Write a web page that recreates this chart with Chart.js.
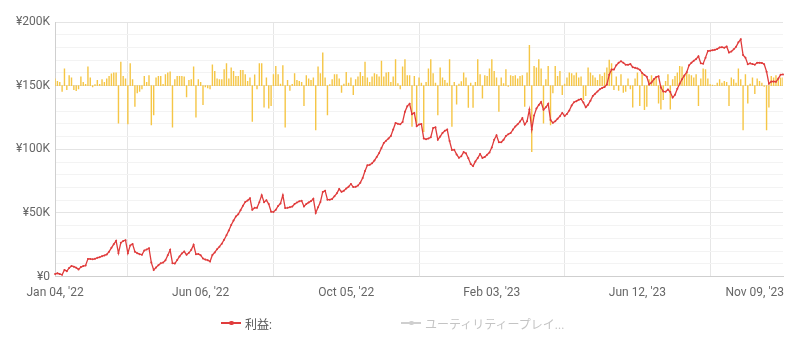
<!DOCTYPE html>
<html>
<head>
<meta charset="utf-8">
<script src="https://cdn.jsdelivr.net/npm/chart.js@4.4.0/dist/chart.umd.min.js"></script>
<style>
  html, body { margin: 0; padding: 0; background: #fff; }
  #wrap { position: relative; width: 789px; height: 351px; }
  #legend { position: absolute; left: 0; top: 314px; width: 789px; height: 18px;
    font: 12px Roboto, "Noto Sans CJK JP", sans-serif; }
  .item { position: absolute; top: 0; height: 18px; display: flex; align-items: center; white-space: nowrap; }
  .mark { position: relative; width: 20px; height: 18px; margin-right: 4px; }
  .mark::before { content: ''; position: absolute; left: 0; right: 0; top: 8px; height: 1.5px; background: currentColor; }
  .mark::after { content: ''; position: absolute; left: 8px; top: 6.5px; width: 4.5px; height: 4.5px; border-radius: 50%; background: currentColor; }
</style>
</head>
<body>
<div id="wrap">
  <canvas id="chart" width="789" height="351"></canvas>
  <div id="legend"></div>
</div>
<script>
// cumulative profit (K yen) per trade
const profitK = [
  2.0, 2.6, 2.0, 1.4, 5.2, 4.3, 6.8, 8.4, 7.8, 7.0,
  5.6, 7.5, 8.3, 8.7, 13.9, 13.9, 13.6, 14.0, 14.8, 15.2,
  16.0, 16.6, 17.4, 19.6, 22.6, 25.5, 28.1, 18.4, 26.5, 28.0,
  28.6, 18.4, 24.5, 25.6, 19.6, 18.4, 17.6, 17.1, 20.5, 21.3,
  22.3, 11.0, 5.2, 7.1, 9.0, 10.5, 11.0, 12.8, 16.8, 21.0,
  10.5, 10.2, 13.0, 15.8, 18.2, 19.7, 17.1, 18.7, 21.0, 25.0,
  17.5, 17.8, 16.8, 14.2, 13.4, 12.9, 11.8, 17.0, 19.0, 21.5,
  23.5, 25.8, 29.0, 32.5, 36.3, 40.5, 44.0, 47.2, 49.0, 52.2,
  55.6, 58.6, 59.8, 61.5, 52.5, 54.0, 54.0, 58.5, 64.0, 58.5,
  60.0, 57.0, 51.0, 50.8, 52.5, 55.5, 57.5, 64.0, 53.8, 54.0,
  54.5, 55.0, 57.0, 58.2, 59.1, 59.6, 55.1, 57.0, 58.3, 59.3,
  61.2, 50.0, 54.5, 58.6, 66.5, 67.5, 60.4, 60.4, 61.0, 63.2,
  65.4, 68.8, 66.6, 67.5, 69.2, 70.6, 72.8, 70.3, 70.5, 71.5,
  73.8, 77.5, 83.0, 87.4, 87.8, 89.0, 91.2, 94.0, 97.0, 101.0,
  105.0, 106.8, 108.5, 110.5, 115.5, 120.7, 120.0, 119.6, 121.5, 129.5,
  133.9, 135.7, 127.5, 128.6, 118.2, 119.5, 119.8, 108.5, 107.8, 108.5,
  109.5, 116.8, 117.3, 107.6, 110.0, 112.8, 114.6, 115.5, 106.5, 99.5,
  99.6, 96.0, 93.3, 94.6, 97.8, 96.8, 93.0, 88.5, 86.8, 90.5,
  93.1, 96.3, 93.2, 94.0, 95.7, 97.5, 101.5, 107.5, 111.0, 105.5,
  105.5, 107.5, 110.5, 111.8, 112.8, 115.5, 118.0, 119.6, 121.8, 124.5,
  119.4, 122.0, 131.3, 115.5, 126.5, 132.0, 134.8, 137.2, 131.0, 133.0,
  135.7, 123.0, 120.8, 122.0, 124.0, 126.0, 128.6, 126.2, 127.8, 130.5,
  134.5, 137.0, 137.8, 138.9, 139.5, 136.8, 133.0, 135.0, 138.2, 141.9,
  143.6, 145.5, 147.2, 148.2, 149.0, 151.0, 158.5, 162.7, 162.6, 166.0,
  168.0, 169.2, 168.0, 166.5, 166.4, 167.0, 164.5, 164.0, 163.5, 162.5,
  160.0, 158.4, 157.0, 151.0, 152.5, 155.0, 156.8, 157.3, 148.5, 145.5,
  145.3, 147.0, 145.0, 140.6, 142.8, 147.5, 151.5, 155.0, 158.0, 160.5,
  166.0, 168.0, 169.5, 171.0, 173.0, 167.5, 167.3, 172.0, 177.2, 177.5,
  177.8, 178.2, 178.8, 180.0, 180.2, 179.8, 180.8, 176.0, 176.8, 178.5,
  180.5, 184.0, 186.4, 174.0, 172.0, 166.8, 167.5, 167.0, 166.5, 168.0,
  168.0, 167.8, 166.8, 161.0, 151.5, 153.2, 153.3, 153.0, 155.6, 158.6, 158.8
];

// profit of each single trade (K yen)
const tradeK = [
  2.0, 1.3, 1.0, -1.7, 5.0, -1.2, 3.0, 2.3, -1.2, -1.5,
  -1.0, 2.6, 1.0, 0.4, 5.6, 2.3, -0.4, 0.3, 1.6, 0.4,
  1.8, 1.0, 2.0, 2.8, 3.5, 3.8, 3.8, -11.2, 7.0, 2.8,
  2.0, -11.4, 6.6, 1.8, -6.2, -2.2, -1.7, -1.0, 2.8, 1.0,
  3.0, -11.7, -8.7, 2.3, 2.8, 2.8, 0.4, 3.3, 3.8, 4.1,
  -12.4, 1.8, 2.8, 2.8, 2.8, 2.6, -3.4, 1.6, 1.8, 5.6,
  -9.4, 1.8, 1.0, -5.7, -0.4, -0.7, -1.0, 6.2, 4.3, 2.0,
  1.8, 1.8, 4.8, 6.6, 2.0, 5.3, 4.3, 2.8, 2.8, 4.6,
  4.6, 3.3, 1.3, 2.3, -10.7, 3.2, -1.0, 6.6, 6.6, -6.4,
  2.3, -6.7, -6.0, 3.3, 5.8, 3.3, 0.5, 6.0, -12.4, 1.6,
  -1.4, 0.4, 3.6, 1.6, 1.3, 1.0, -6.0, 3.0, 2.0, 1.6,
  2.3, -13.2, 5.6, 3.6, 9.8, 2.3, -8.7, 0.3, 1.8, 3.3,
  3.3, 2.0, -2.0, 0.5, 4.0, 0.8, 2.3, -2.7, 1.8, 2.6,
  4.0, 2.8, 7.0, 2.3, 1.0, 2.6, 3.6, 3.3, 2.6, 7.3,
  2.6, 3.8, 4.0, 1.0, 2.6, 7.8, 0.6, -1.0, 5.6, 7.8,
  3.0, 3.0, -12.2, 2.8, -11.2, 2.3, 0.8, -13.7, 1.0, 5.0,
  7.8, 3.6, 0.8, -8.7, 5.3, 2.3, 1.6, 0.8, 7.8, -12.2,
  1.0, -5.5, 0.5, 1.2, 3.8, 2.3, -6.5, 0.8, -6.5, 1.0,
  7.8, 3.3, -3.7, 3.0, 2.8, 5.0, 7.8, 4.3, 2.3, -7.7,
  2.3, 0.6, 4.8, -0.2, 3.0, 2.8, 3.0, 2.0, 2.8, 3.0,
  -6.2, 3.8, 12.0, -19.7, 5.8, 5.3, 7.8, 5.0, -11.2, 1.8,
  5.8, -11.7, -2.2, 5.8, 2.8, 4.3, -2.7, 0.5, 2.3, 3.8,
  3.6, 3.0, 3.8, 2.3, 2.6, -4.2, -3.0, 5.3, 3.8, 3.0,
  2.3, 1.6, 3.3, 2.8, 3.8, 5.3, 7.6, 6.6, -1.2, 2.6,
  -1.4, 3.3, -2.0, -1.7, 2.0, -1.0, -6.4, 2.0, 3.8, -6.0,
  3.8, -7.2, -6.2, 1.8, 3.0, 2.0, 2.6, -5.2, -7.0, -4.2,
  1.3, 3.3, -7.0, 1.8, 2.8, 3.8, 5.8, 5.6, 3.0, 3.8,
  3.3, 3.0, 2.3, 3.3, -6.0, 2.0, 5.0, 4.8, 2.0, 0.3,
  0.2, 0.0, 0.8, 1.8, 0.8, 1.3, 1.0, -6.0, 2.3, 1.8,
  0.8, 5.0, 1.8, -13.2, 3.3, -5.2, 0.5, 2.3, -2.4, 2.0,
  1.3, 0.8, -0.2, -13.2, -6.4, 2.8, 2.3, 3.0, 2.0, 2.3, 2.3
];

const tradeNo = profitK.map((_, i) => i + 1);

// x tick labels and the trade they sit on
const tickLabels = ["Jan 04, '22", "Jun 06, '22", "Oct 05, '22", "Feb 03, '23", "Jun 12, '23", "Nov 09, '23"];
const tickIndex = [0, 62, 124, 186, 248, 310];

const seriesNames = ['利益:', 'ユーティリティープレイ...'];

Chart.defaults.font.family = 'Roboto, "Noto Sans CJK JP", sans-serif';
Chart.defaults.font.size = 12;
Chart.defaults.color = '#666';

const ctx = document.getElementById('chart').getContext('2d');
const chart = new Chart(ctx, {
  data: {
    labels: tradeNo,
    datasets: [
      {
        type: 'line',
        label: seriesNames[0],
        data: profitK,
        yAxisID: 'y',
        borderColor: '#e03c3c',
        backgroundColor: '#e03c3c',
        borderWidth: 1.3,
        pointRadius: 1,
        pointBorderWidth: 0,
        tension: 0,
        order: 1,
      },
      {
        type: 'line',
        label: seriesNames[1],
        data: [],
        yAxisID: 'y',
        borderColor: '#cccccc',
        hidden: true,
        order: 1,
      },
      {
        type: 'bar',
        label: 'trade',
        data: tradeK,
        yAxisID: 'y2',
        backgroundColor: '#f5c646',
        barThickness: 0.75,
        order: 2,
      }
    ]
  },
  options: {
    responsive: false,
    animation: false,
    devicePixelRatio: 1,
    layout: { padding: { left: 11, right: 6, top: 22, bottom: 42 } },
    plugins: { legend: { display: false }, tooltip: { enabled: false } },
    scales: {
      x: {
        type: 'category',
        offset: false,
        grid: { color: '#e6e6e6', drawTicks: false },
        border: { color: '#cfcfcf' },
        ticks: {
          autoSkip: false,
          maxRotation: 0,
          padding: 9,
          callback: (v, i) => {
            const k = tickIndex.indexOf(i);
            if (k < 0) return null;
            // last label sits left of its grid line, as in the reference
            return k === tickLabels.length - 1 ? tickLabels[k] + '\u00a0'.repeat(19) : tickLabels[k];
          }
        },
        afterFit: (scale) => { scale.paddingLeft = 0; scale.paddingRight = 0; }
      },
      y: {
        min: 0,
        max: 200,
        grid: {
          drawTicks: false,
          color: (c) => c.tick && c.tick.value % 50 === 0 ? '#e4e4e4' : '#f3f3f3'
        },
        border: { color: '#cfcfcf' },
        ticks: {
          stepSize: 10,
          autoSkip: false,
          padding: 5,
          callback: (v) => v % 50 !== 0 ? '' : (v === 0 ? '¥0' : '¥' + v + 'K')
        }
      },
      y2: { display: false, min: -57, max: 19 }
    }
  }
});

// legend under the plot
const legendLeft = [221, 401];
const legendColors = [['#e03c3c', '#555'], ['#cfcfcf', '#c4c4c4']];
const legendEl = document.getElementById('legend');
seriesNames.forEach((name, i) => {
  const item = document.createElement('div');
  item.className = 'item';
  item.style.left = legendLeft[i] + 'px';
  item.style.color = legendColors[i][0];
  item.innerHTML = `<span class="mark"></span><span style="color:${legendColors[i][1]}">${name}</span>`;
  legendEl.appendChild(item);
});
</script>
</body>
</html>
